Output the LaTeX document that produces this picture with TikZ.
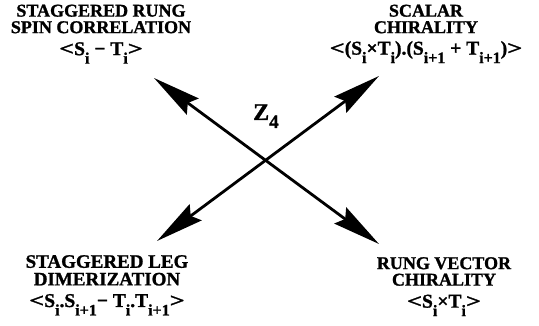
\documentclass[tikz,border=0pt]{standalone}
\usepackage{graphicx}
\usepackage{fontspec}
\setmainfont{Liberation Serif}[BoldFont={Liberation Serif Bold},BoldFeatures={FakeBold=1.2}]
\usetikzlibrary{arrows.meta}
\newcommand{\sbx}[1]{\raisebox{-8.5pt}{\fontsize{16}{16}\selectfont\bfseries #1}}
\newcommand{\lt}{\scalebox{1.35}[1]{<}}
\newcommand{\gt}{\scalebox{1.35}[1]{>}}
\newcommand{\fml}{\fontsize{19.5}{16}\selectfont}
\begin{document}
\begin{tikzpicture}[x=1pt,y=-1pt,
  lbl/.style={align=center,font=\rmfamily\bfseries\fontsize{18}{16.5}\selectfont,inner sep=0pt},
  dbl/.style={line width=2.8pt,{Stealth[length=48pt,width=20pt,inset=6pt]}-{Stealth[length=48pt,width=20pt,inset=6pt]}}]
\useasboundingbox (0,0) rectangle (539,326);
\node[lbl,anchor=north] (tl) at (101,4.5) {STAGGERED RUNG\\ SPIN CORRELATION\\[5.5pt] {\fml\lt S\sbx{i} − T\sbx{i}\gt}};
\node[lbl,anchor=north] (tr) at (426,4.5) {SCALAR\\ CHIRALITY\\[5pt] {\fml\lt(S\sbx{i}×T\sbx{i}).(S\sbx{i+1} + T\sbx{i+1})\gt}};
\node[lbl,anchor=north,font=\rmfamily\bfseries\fontsize{19}{17.6}\selectfont] (bl) at (107,255) {STAGGERED LEG\\ DIMERIZATION\\[4pt] {\fml\lt S\sbx{i}.S\sbx{i+1}− T\sbx{i}.T\sbx{i+1}\gt}};
\node[lbl,anchor=north] (br) at (444,257) {RUNG VECTOR\\ CHIRALITY\\[5.5pt] {\fml\lt S\sbx{i}×T\sbx{i}\gt}};
\node[lbl,anchor=base west,font=\rmfamily\bfseries\fontsize{24}{24}\selectfont] (z) at (253,120) {Z\raisebox{-8pt}{\fontsize{19}{19}\selectfont 4}};
\coordinate (a1) at (154,78);
\coordinate (a2) at (379,244);
\coordinate (b1) at (379,76);
\coordinate (b2) at (157,241);
\draw[dbl] (a1) -- (a2);
\draw[dbl] (b1) -- (b2);
\end{tikzpicture}
\end{document}
